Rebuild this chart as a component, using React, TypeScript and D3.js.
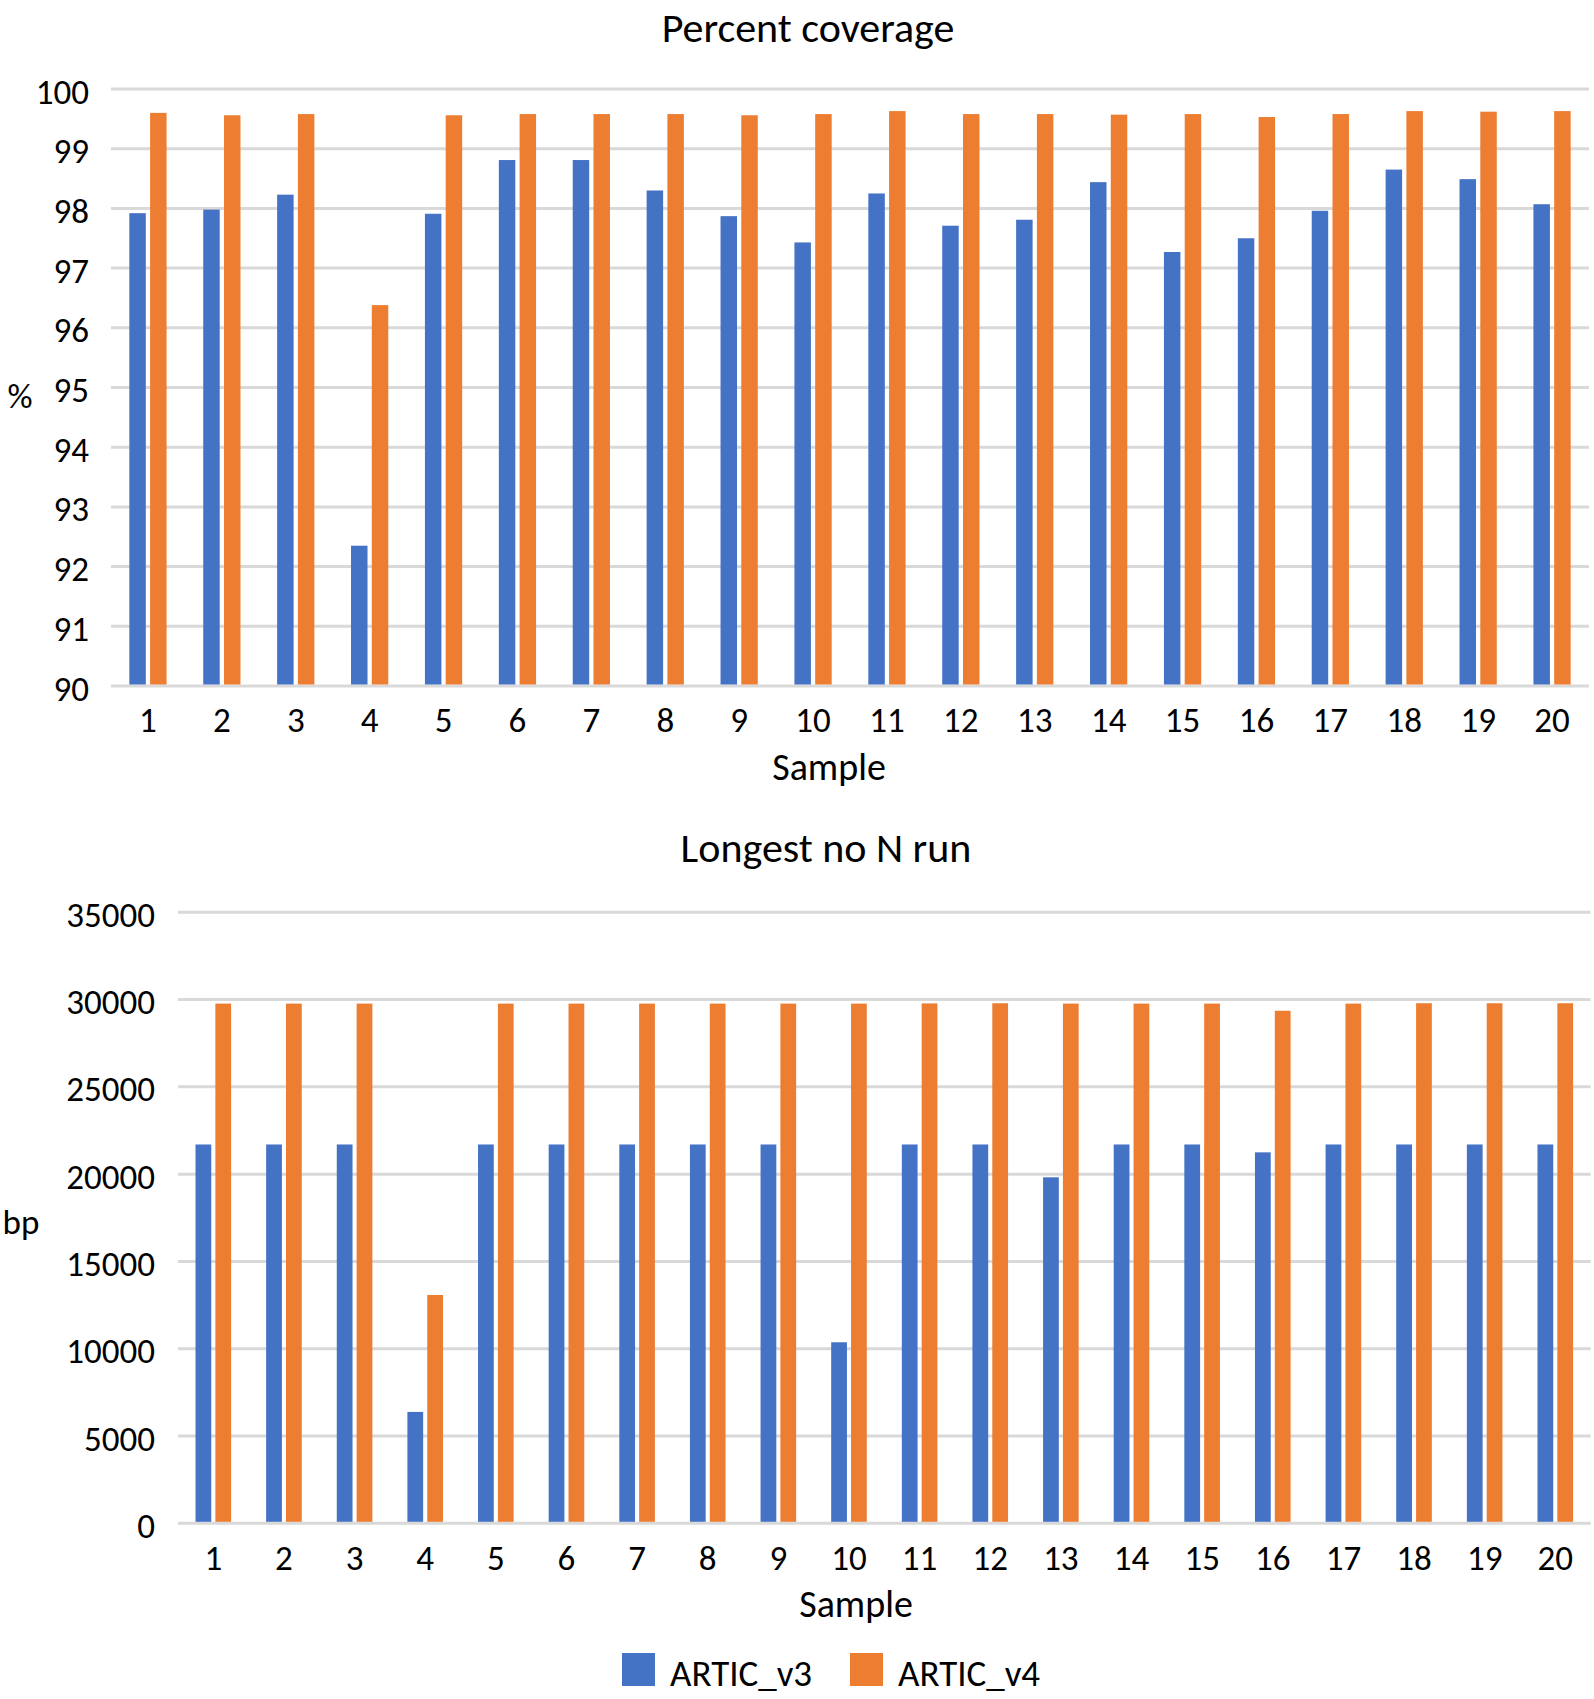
import React from "react";
import * as d3 from "d3";

const samples = ["1","2","3","4","5","6","7","8","9","10","11","12","13","14","15","16","17","18","19","20"];
const seriesNames = ["ARTIC_v3", "ARTIC_v4"];
const seriesColors = ["#4472C4", "#ED7D31"];

const coverageV3 = [97.92, 97.98, 98.23, 92.35, 97.91, 98.81, 98.81, 98.30, 97.87, 97.43, 98.25, 97.71, 97.81, 98.44, 97.27, 97.50, 97.96, 98.65, 98.49, 98.07];
const coverageV4 = [99.60, 99.56, 99.58, 96.38, 99.56, 99.58, 99.58, 99.58, 99.56, 99.58, 99.63, 99.58, 99.58, 99.57, 99.58, 99.53, 99.58, 99.63, 99.62, 99.63];
const coverageTicks = [90, 91, 92, 93, 94, 95, 96, 97, 98, 99, 100];

const longestV3 = [21700, 21700, 21700, 6380, 21700, 21700, 21700, 21700, 21700, 10370, 21700, 21700, 19820, 21700, 21700, 21250, 21700, 21700, 21700, 21700];
const longestV4 = [29770, 29770, 29770, 13080, 29770, 29770, 29770, 29770, 29770, 29770, 29780, 29790, 29770, 29770, 29770, 29360, 29770, 29790, 29790, 29790];
const longestTicks = [0, 5000, 10000, 15000, 20000, 25000, 30000, 35000];

const FONT = "Carlito, Calibri, Lato, 'Open Sans', sans-serif";
const GRID = "#D9D9D9";

type PanelProps = {
  title: string;
  yLabel: string;
  v3: number[];
  v4: number[];
  ticks: number[];
  layout: {
    xLeft: number; xRight: number; yTop: number; yBottom: number;
    titleX: number; titleY: number; tickEnd: number; xTickY: number;
    xTitleX: number; xTitleY: number; yLabelX: number; yLabelY: number;
  };
};

function Panel({ title, yLabel, v3, v4, ticks, layout }: PanelProps) {
  const L = layout;
  const x = d3.scaleBand<string>().domain(samples).range([L.xLeft, L.xRight]).paddingInner(0).paddingOuter(0);
  const y = d3.scaleLinear().domain([ticks[0], ticks[ticks.length - 1]]).range([L.yBottom, L.yTop]);
  const bw = x.bandwidth();
  const barW = bw * 0.223;
  const gap = bw * 0.058;
  const series = [v3, v4];
  return (
    <g>
      <text x={L.titleX} y={L.titleY} textAnchor="middle" fontSize={42} fontFamily={FONT} fill="#000">{title}</text>
      {ticks.map((t) => (
        <g key={t}>
          <line x1={L.xLeft} x2={L.xRight} y1={y(t)} y2={y(t)} stroke={GRID} strokeWidth={3} />
          <text x={L.tickEnd} y={y(t) + 14.5} textAnchor="end" fontSize={35} fontFamily={FONT} fill="#000">{t}</text>
        </g>
      ))}
      {series.map((vals, si) =>
        vals.map((v, i) => {
          const c = (x(samples[i]) as number) + bw / 2;
          const bx = si === 0 ? c - gap / 2 - barW : c + gap / 2;
          const top = y(v);
          return <rect key={si + "-" + i} x={bx} y={top} width={barW} height={L.yBottom - 1.5 - top} fill={seriesColors[si]} />;
        })
      )}
      {samples.map((s) => (
        <text key={s} x={(x(s) as number) + bw / 2} y={L.xTickY} textAnchor="middle" fontSize={35} fontFamily={FONT} fill="#000">{s}</text>
      ))}
      <text x={L.xTitleX} y={L.xTitleY} textAnchor="middle" fontSize={38} fontFamily={FONT} fill="#000">Sample</text>
      <text x={L.yLabelX} y={L.yLabelY} textAnchor="middle" fontSize={35} fontFamily={FONT} fill="#000">{yLabel}</text>
    </g>
  );
}

export default function App() {
  return (
    <svg width={1594} height={1699} style={{ position: "absolute", left: 0, top: 0, background: "#fff" }}>
      <rect x={0} y={0} width={1594} height={1699} fill="#fff" />
      <Panel
        title="Percent coverage"
        yLabel="%"
        v3={coverageV3}
        v4={coverageV4}
        ticks={coverageTicks}
        layout={{ xLeft: 111, xRight: 1589, yTop: 89, yBottom: 686, titleX: 808, titleY: 42, tickEnd: 89, xTickY: 732, xTitleX: 829, xTitleY: 780, yLabelX: 20, yLabelY: 408 }}
      />
      <Panel
        title="Longest no N run"
        yLabel="bp"
        v3={longestV3}
        v4={longestV4}
        ticks={longestTicks}
        layout={{ xLeft: 178, xRight: 1590.6, yTop: 912.3, yBottom: 1523.3, titleX: 826, titleY: 862, tickEnd: 155, xTickY: 1570, xTitleX: 856, xTitleY: 1617, yLabelX: 21, yLabelY: 1234 }}
      />
      {seriesNames.map((n, i) => {
        const lx = [622, 850][i];
        return (
          <g key={n}>
            <rect x={lx} y={1653} width={33} height={33} fill={seriesColors[i]} />
            <text x={lx + 48} y={1686} fontSize={37} fontFamily={FONT} fill="#000">{n}</text>
          </g>
        );
      })}
    </svg>
  );
}
